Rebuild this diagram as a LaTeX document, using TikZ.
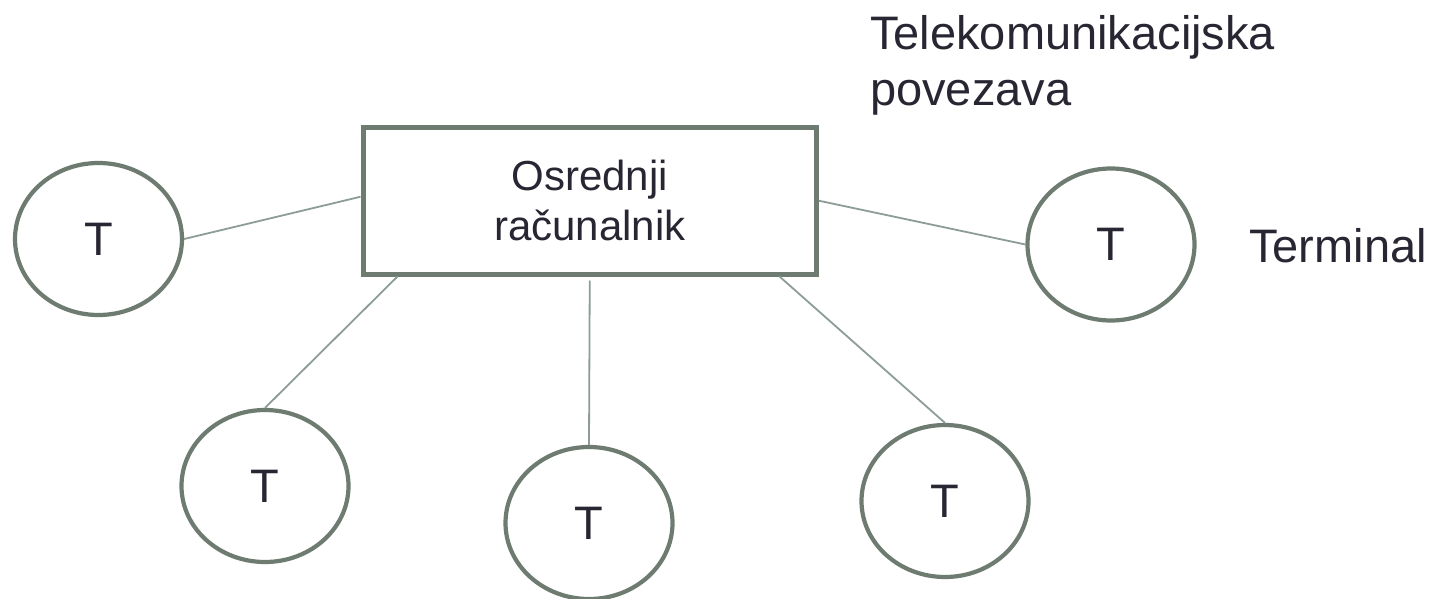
\documentclass[tikz,border=0pt]{standalone}
\usepackage{fontspec}
\setmainfont{Liberation Sans}
\usetikzlibrary{shapes.geometric,calc}
\definecolor{edgegray}{HTML}{6E7B71}
\definecolor{linkgray}{HTML}{8D9D95}
\definecolor{inkdark}{HTML}{272632}
\tikzset{
  term/.style={ellipse, draw=edgegray, line width=4.2pt, inner sep=0pt,
    minimum width=167pt, minimum height=152pt, text=inkdark,
    font=\fontsize{47}{56}\selectfont},
  hostbox/.style={rectangle, draw=edgegray, line width=5pt, inner sep=0pt,
    minimum width=453.5pt, minimum height=146.5pt, align=center, text=inkdark,
    font=\fontsize{42}{50}\selectfont},
  link/.style={draw=linkgray, line width=1.8pt},
  caption/.style={inner sep=0pt, text=inkdark, font=\fontsize{47}{56}\selectfont}
}
\begin{document}
\begin{tikzpicture}[x=1pt,y=-1pt]
  \useasboundingbox[fill=white] (0,0) rectangle (1435,599);

  % central computer
  \node[hostbox] (host) at (589.75,200.75) {Osrednji\\računalnik};

  % terminals
  \node[term] (tl)  at (98.5,239)  {T};
  \node[term] (tr)  at (1111,244.5) {T};
  \node[term] (tbl) at (265,486)   {T};
  \node[term] (tbc) at (589,523)   {T};
  \node[term] (tbr) at (945,501)   {T};

  % telecommunication links
  \draw[link] ([yshift=4pt]host.west) -- (tl.east);
  \draw[link] (host.east) -- (tr.west);
  \draw[link] ([xshift=37pt]host.south west) -- (tbl.north);
  \draw[link] ([yshift=-4pt]host.south) -- (tbc.north);
  \draw[link] ([xshift=-39.5pt]host.south east) -- (tbr.north);

  % labels
  \node[caption, anchor=north west, align=left] (linklabel) at (870,15.7)
    {Telekomunikacijska\\povezava};
  \node[caption, anchor=base west] (termlabel) at (1249,262) {Terminal};
\end{tikzpicture}
\end{document}
